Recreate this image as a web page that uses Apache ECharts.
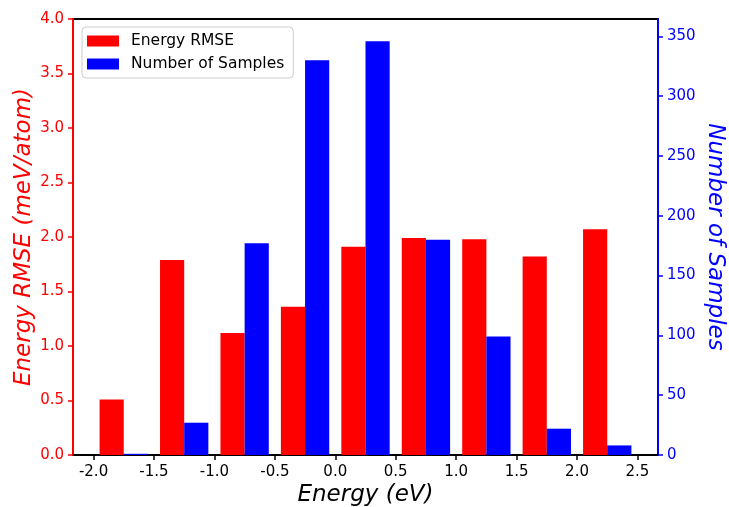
<!DOCTYPE html>
<html>
<head>
<meta charset="utf-8">
<script src="https://cdn.jsdelivr.net/npm/echarts@6/dist/echarts.min.js"></script>
<style>
html,body{margin:0;padding:0;background:#fff;}
#chart{width:729px;height:507px;}
</style>
</head>
<body>
<div id="chart"></div>
<script>
// ---- data ----
var binCenters = [-1.75, -1.25, -0.75, -0.25, 0.25, 0.75, 1.25, 1.75, 2.25];
var rmseValues = [0.51, 1.79, 1.12, 1.36, 1.91, 1.99, 1.98, 1.82, 2.07];
var sampleCounts = [1, 27, 177, 330, 346, 180, 99, 22, 8];
var xTickValues = [-2.0, -1.5, -1.0, -0.5, 0.0, 0.5, 1.0, 1.5, 2.0, 2.5];
var rightTickValues = [0, 50, 100, 150, 200, 250, 300, 350];
var seriesNames = ['Energy RMSE', 'Number of Samples'];

var BAR_W = 0.2;
var FONT = 'DejaVu Sans';
var RED = '#ff0000', BLUE = '#0000ff';

function makeRender(side, color) {
  return function (params, api) {
    var x = api.value(0), y = api.value(1);
    var x0 = side < 0 ? x - BAR_W : x;
    var p0 = api.coord([x0, y]);
    var p1 = api.coord([x0 + BAR_W, 0]);
    return {
      type: 'rect',
      shape: { x: p0[0], y: p0[1], width: p1[0] - p0[0], height: p1[1] - p0[1] },
      style: { fill: color }
    };
  };
}

var rmseData = binCenters.map(function (c, i) { return [c, rmseValues[i]]; });
var countData = binCenters.map(function (c, i) { return [c, sampleCounts[i]]; });

var chart = echarts.init(document.getElementById('chart'), null, { renderer: 'canvas' });
chart.setOption({
  animation: false,
  backgroundColor: '#ffffff',
  textStyle: { fontFamily: FONT },
  grid: {
    left: 73, right: 71, top: 19, bottom: 52,
    show: true, borderColor: '#000', borderWidth: 2, backgroundColor: 'transparent',
    containLabel: false, outerBoundsMode: 'none'
  },
  legend: {
    orient: 'vertical',
    left: 82, top: 27,
    padding: [6, 9, 6, 5],
    itemGap: 7,
    itemWidth: 32, itemHeight: 11,
    backgroundColor: 'rgba(255,255,255,0.85)',
    borderColor: '#cccccc', borderWidth: 1, borderRadius: 4,
    textStyle: { fontFamily: FONT, fontSize: 15.5, color: '#000', lineHeight: 16, padding: [0, 0, 0, 7] },
    data: [
      { name: seriesNames[0], icon: 'rect', itemStyle: { color: RED } },
      { name: seriesNames[1], icon: 'rect', itemStyle: { color: BLUE } }
    ]
  },
  xAxis: {
    type: 'value',
    min: -2.17, max: 2.67,
    name: 'Energy (eV)',
    nameLocation: 'middle',
    nameGap: 29,
    nameMoveOverlap: false,
    nameTextStyle: { fontFamily: FONT, fontSize: 23, fontStyle: 'italic', color: '#000' },
    splitLine: { show: false },
    axisLine: { show: true, onZero: false, lineStyle: { color: '#000', width: 2 } },
    axisTick: { show: true, inside: false, length: 5, customValues: xTickValues, lineStyle: { color: '#000', width: 1.5 } },
    axisLabel: {
      customValues: xTickValues, color: '#000', fontSize: 15, fontFamily: FONT, margin: 10,
      formatter: function (v) { return v.toFixed(1); }
    }
  },
  yAxis: [
    {
      type: 'value', position: 'left',
      min: 0, max: 4, interval: 0.5,
      name: 'Energy RMSE (meV/atom)',
      nameLocation: 'middle', nameGap: 37,
      nameMoveOverlap: false,
      nameTextStyle: { fontFamily: FONT, fontSize: 23, fontStyle: 'italic', color: RED },
      splitLine: { show: false },
      axisLine: { show: true, onZero: false, lineStyle: { color: RED, width: 2 } },
      axisTick: { show: true, inside: false, length: 5, lineStyle: { color: RED, width: 1.5 } },
      axisLabel: {
        color: RED, fontSize: 15, fontFamily: FONT, margin: 9,
        formatter: function (v) { return v.toFixed(1); }
      }
    },
    {
      type: 'value', position: 'right',
      min: 0, max: 364.5,
      name: 'Number of Samples',
      nameLocation: 'middle', nameGap: 45, nameRotate: -90,
      nameMoveOverlap: false,
      nameTextStyle: { fontFamily: FONT, fontSize: 23, fontStyle: 'italic', color: BLUE },
      splitLine: { show: false },
      axisLine: { show: true, onZero: false, lineStyle: { color: BLUE, width: 2 } },
      axisTick: { show: true, inside: false, length: 5, customValues: rightTickValues, lineStyle: { color: BLUE, width: 1.5 } },
      axisLabel: {
        customValues: rightTickValues, color: BLUE, fontSize: 15, fontFamily: FONT, margin: 9,
        formatter: function (v) { return String(Math.round(v)); }
      }
    }
  ],
  series: [
    {
      name: seriesNames[0], type: 'custom', xAxisIndex: 0, yAxisIndex: 0,
      itemStyle: { color: RED },
      encode: { x: 0, y: 1 },
      renderItem: makeRender(-1, RED),
      data: rmseData
    },
    {
      name: seriesNames[1], type: 'custom', xAxisIndex: 0, yAxisIndex: 1,
      itemStyle: { color: BLUE },
      encode: { x: 0, y: 1 },
      renderItem: makeRender(1, BLUE),
      data: countData
    }
  ]
});
</script>
</body>
</html>
